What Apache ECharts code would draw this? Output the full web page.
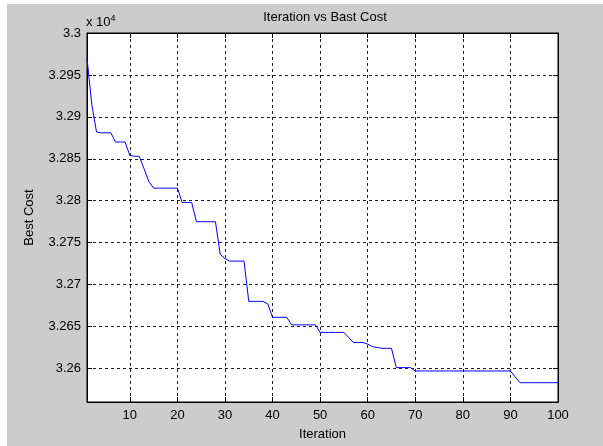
<!DOCTYPE html>
<html>
<head>
<meta charset="utf-8">
<script src="https://cdn.jsdelivr.net/npm/echarts@6/dist/echarts.min.js"></script>
<style>
html,body{margin:0;padding:0;background:#fff;}
#main{position:absolute;left:7px;top:4px;width:596px;height:442px;}
</style>
</head>
<body>
<div id="main"></div>
<script>
// iteration numbers (x axis categories)
var iterations = []
for (var i = 1; i <= 100; i++) iterations.push(i)

// best cost per iteration
var bestCost = [
	32970, 32915, 32882, 32881, 32881, 32881, 32870, 32870, 32870, 32854,
	32853, 32853, 32838, 32823, 32815, 32815, 32815, 32815, 32815, 32815,
	32798, 32798, 32798, 32775, 32775, 32775, 32775, 32775, 32736, 32731,
	32728, 32728, 32728, 32728, 32680, 32680, 32680, 32680, 32677, 32661,
	32661, 32661, 32661, 32652, 32652, 32652, 32652, 32652, 32652, 32643,
	32643, 32643, 32643, 32643, 32643, 32637, 32631, 32631, 32631, 32629,
	32626, 32625, 32624, 32624, 32624, 32601, 32601, 32601, 32601, 32597,
	32597, 32597, 32597, 32597, 32597, 32597, 32597, 32597, 32597, 32597,
	32597, 32597, 32597, 32597, 32597, 32597, 32597, 32597, 32597, 32597,
	32590, 32583, 32583, 32583, 32583, 32583, 32583, 32583, 32583, 32583
]

// y tick values (shown as value / 1e4)
var yTicks = [32600, 32650, 32700, 32750, 32800, 32850, 32900, 32950, 33000]
var yMin = 32560
var yMax = 33000

var fontFam = "'Liberation Sans', Arial, sans-serif"
var gridDash = {color: '#222', width: 1, type: [3, 3]}

function everyTen(idx, val){
	return Number(val) % 10 === 0
}

var option = {
	animation: false,
	backgroundColor: '#cccccc',
	textStyle: {fontFamily: fontFam},
	title: {
		text: 'Iteration vs Bast Cost',
		left: 313, top: 2, textAlign: 'center',
		textStyle: {fontSize: 13, fontWeight: 'normal', color: '#000', fontFamily: fontFam}
	},
	graphic: [{
		type: 'text', left: 79, top: 10,
		style: {
			text: 'x 10{sup|4}',
			fontSize: 13, fill: '#000', fontFamily: fontFam,
			rich: {sup: {fontSize: 9, verticalAlign: 'top', padding: [0, 0, 8, 0], fontFamily: fontFam}}
		}
	}],
	grid: {left: 80, top: 29, right: 45, bottom: 40, show: true, backgroundColor: '#fff', borderColor: '#000', borderWidth: 1},
	xAxis: [{
		type: 'category',
		data: iterations,
		boundaryGap: false,
		name: 'Iteration',
		nameLocation: 'middle',
		nameGap: 26,
		nameTextStyle: {fontSize: 13, color: '#000', fontFamily: fontFam},
		axisLine: {lineStyle: {color: '#000'}},
		axisTick: {inside: true, length: 5, interval: everyTen, lineStyle: {color: '#000'}},
		axisLabel: {interval: everyTen, fontSize: 13, color: '#000', margin: 7, fontFamily: fontFam},
		splitLine: {show: true, interval: everyTen, lineStyle: gridDash}
	}, {
		type: 'category',
		position: 'top',
		data: iterations,
		boundaryGap: false,
		axisLine: {lineStyle: {color: '#000'}},
		axisTick: {inside: true, length: 5, interval: everyTen, lineStyle: {color: '#000'}},
		axisLabel: {show: false},
		splitLine: {show: false}
	}],
	yAxis: [{
		type: 'value',
		min: yMin, max: yMax,
		name: 'Best Cost',
		nameLocation: 'middle',
		nameGap: 51,
		nameTextStyle: {fontSize: 13, color: '#000', fontFamily: fontFam},
		axisLine: {show: true, lineStyle: {color: '#000'}},
		axisTick: {show: true, inside: true, length: 5, customValues: yTicks, lineStyle: {color: '#000'}},
		axisLabel: {
			customValues: yTicks, fontSize: 13, color: '#000', margin: 6, fontFamily: fontFam,
			formatter: function(v){ return String(parseFloat((v / 10000).toFixed(4))) }
		},
		splitLine: {show: true, lineStyle: gridDash}
	}, {
		type: 'value',
		position: 'right',
		min: yMin, max: yMax,
		axisLine: {show: true, lineStyle: {color: '#000'}},
		axisTick: {show: true, inside: true, length: 5, customValues: yTicks, lineStyle: {color: '#000'}},
		axisLabel: {show: false},
		splitLine: {show: false}
	}],
	series: [{
		name: 'Best Cost',
		type: 'line',
		data: bestCost,
		showSymbol: false,
		lineStyle: {color: '#0000ff', width: 1},
		itemStyle: {color: '#0000ff'}
	}]
}

var myChart = echarts.init(document.getElementById('main'))
myChart.setOption(option)
</script>
</body>
</html>
